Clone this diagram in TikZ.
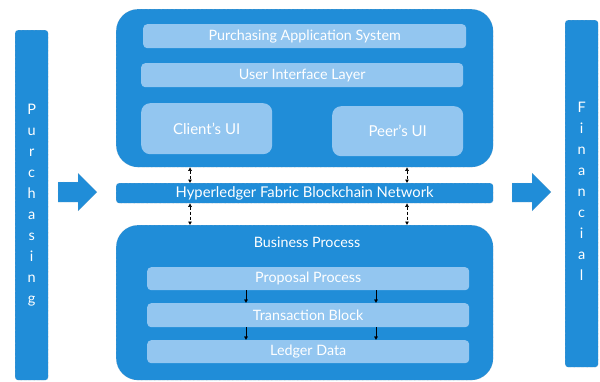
\documentclass[tikz,border=0pt]{standalone}
\usepackage{fontspec}
\setmainfont{Lato}
\usetikzlibrary{arrows.meta}
\definecolor{mainblue}{RGB}{32,141,216}
\definecolor{lightblue}{RGB}{147,198,240}
\begin{document}
\begin{tikzpicture}[x=1pt,y=-1pt,
  box/.style={anchor=north west, inner sep=0pt, draw=gray!60, densely dotted, line width=0.3pt, text=white},
  bigbox/.style={box, fill=mainblue, rounded corners=22pt},
  bar/.style={box, fill=mainblue, rounded corners=3pt},
  lightbar/.style={anchor=north west, inner sep=0pt, fill=lightblue, rounded corners=4pt, text=white, font=\fontsize{14.3}{16}\selectfont},
  uibox/.style={lightbar, rounded corners=9pt, font=\fontsize{15}{17}\selectfont},
  vtext/.style={text=white, align=center, font=\fontsize{14.5}{21}\selectfont},
  link/.style={densely dashed, line width=0.5pt, black, {Latex[length=3.5pt,width=4pt]}-{Latex[length=3.5pt,width=4pt]}},
  flow/.style={line width=0.4pt, black, -{Latex[length=3.5pt,width=4pt]}},
  bigarrow/.style={fill=mainblue, draw=gray!60, densely dotted, line width=0.3pt}
]
\useasboundingbox (0,0) rectangle (600,381);

% side bars
\node[bar, minimum width=33pt, minimum height=350pt] (purch) at (15,30) {};
\node[vtext] (purchtxt) at (purch.center) {P\\u\\r\\c\\h\\a\\s\\i\\n\\g};
\node[bar, minimum width=33pt, minimum height=347pt] (fin) at (565,20) {};
\node[vtext] (fintxt) at ([yshift=2pt]fin.center) {F\\i\\n\\a\\n\\c\\i\\a\\l};

% big arrows
\fill[bigarrow] (58,182) -- (78,182) -- (78,173) -- (97,192) -- (78,211) -- (78,202) -- (58,202) -- cycle;
\fill[bigarrow] (512,183) -- (532,183) -- (532,173) -- (551,192) -- (532,211) -- (532,202) -- (512,202) -- cycle;

% top box
\node[bigbox, minimum width=377pt, minimum height=158pt] (top) at (116,9) {};
\node[lightbar, minimum width=323pt, minimum height=24pt] (pas) at (143,24) {Purchasing Application System};
\node[lightbar, minimum width=322pt, minimum height=24pt] (uil) at (141,63) {User Interface Layer};
\node[uibox, minimum width=131pt, minimum height=51pt] (client) at (141,103) {Client’s UI};
\node[uibox, minimum width=131pt, minimum height=50pt] (peer) at (332,106) {Peer’s UI};

% network bar
\node[bar, minimum width=377pt, minimum height=20pt, font=\fontsize{14.8}{16}\selectfont] (hl) at (116,183) {Hyperledger Fabric Blockchain Network};

% bottom box
\node[bigbox, minimum width=377pt, minimum height=155pt] (bot) at (116,225) {};
\node[text=white, font=\fontsize{14.3}{16}\selectfont] (bp) at (307,242) {Business Process};
\node[lightbar, minimum width=322pt, minimum height=23pt] (prop) at (147,267) {Proposal Process};
\node[lightbar, minimum width=322pt, minimum height=24pt] (trans) at (147,303) {Transaction Block};
\node[lightbar, minimum width=322pt, minimum height=23pt] (ledger) at (147,340) {Ledger Data};

% connectors
\coordinate (xa) at (190,0);
\coordinate (xb) at (407,0);
\coordinate (xc) at (246,0);
\coordinate (xd) at (376,0);
\draw[link] (top.south -| xa) -- (hl.north -| xa);
\draw[link] (top.south -| xb) -- (hl.north -| xb);
\draw[link] (hl.south -| xa) -- (bot.north -| xa);
\draw[link] (hl.south -| xb) -- (bot.north -| xb);
\draw[flow] (prop.south -| xc) -- (trans.north -| xc);
\draw[flow] (prop.south -| xd) -- (trans.north -| xd);
\draw[flow] (trans.south -| xc) -- (ledger.north -| xc);
\draw[flow] (trans.south -| xd) -- (ledger.north -| xd);
\end{tikzpicture}
\end{document}
